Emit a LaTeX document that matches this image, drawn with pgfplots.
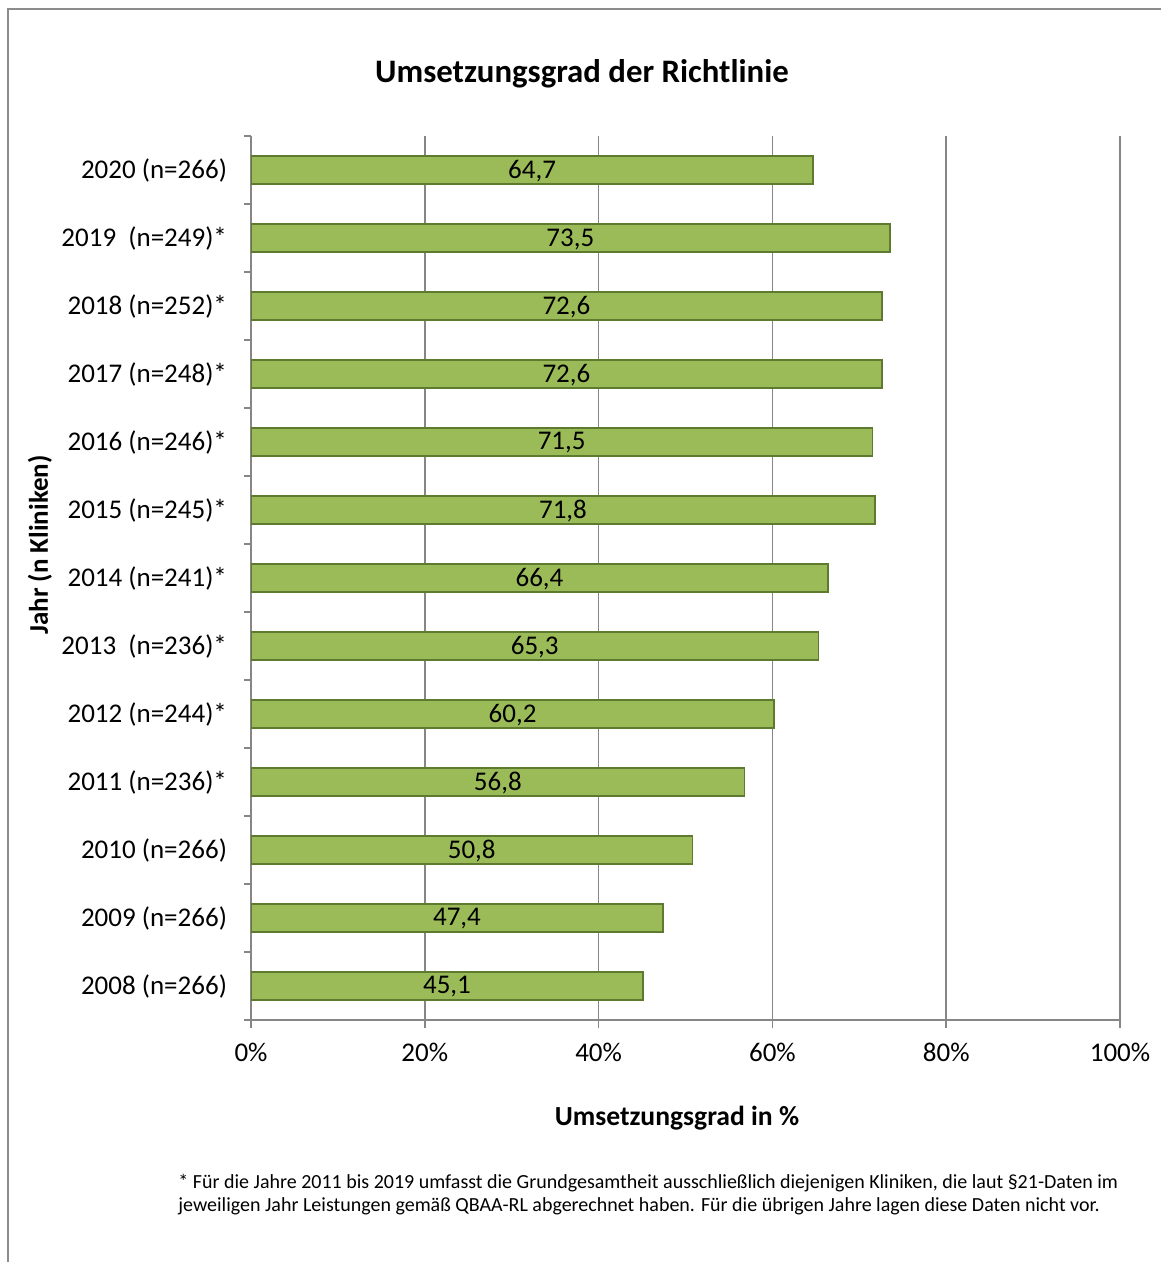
\documentclass[border=0pt]{standalone}
\usepackage{pgfplots}
\pgfplotsset{compat=1.18}
\usepackage{pgfplotstable}
\usepackage{fontspec}
\setmainfont{Carlito}

\definecolor{barfill}{HTML}{9BBB59}
\definecolor{baredge}{HTML}{5E7A2E}
\definecolor{axisgray}{HTML}{868686}
\definecolor{framegray}{HTML}{8C8C8C}

% Umsetzungsgrad je Jahr (idx 0 = 2008 ... idx 12 = 2020)
\pgfplotstableread{
idx value
0 45.1
1 47.4
2 50.8
3 56.8
4 60.2
5 65.3
6 66.4
7 71.8
8 71.5
9 72.6
10 72.6
11 73.5
12 64.7
}\umsetzung

\begin{document}
\begin{tikzpicture}
\useasboundingbox (0,0) rectangle (580.5pt,-631pt);
\begin{axis}[
  at={(125.5pt,-510pt)}, anchor=south west,
  scale only axis, width=434.5pt, height=442pt,
  xmin=0, xmax=100, ymin=-0.5, ymax=12.5,
  axis x line*=bottom, axis y line*=left,
  axis line style={draw=axisgray, line width=0.8pt, -},
  xtick={0,20,...,100},
  xticklabels={0\%,20\%,40\%,60\%,80\%,100\%},
  ytick={0,...,12},
  yticklabels={{2008 (n=266)},{2009 (n=266)},{2010 (n=266)},{2011 (n=236)*},{2012 (n=244)*},{2013\ \ (n=236)*},{2014 (n=241)*},{2015 (n=245)*},{2016 (n=246)*},{2017 (n=248)*},{2018 (n=252)*},{2019\ \ (n=249)*},{2020 (n=266)}},
  minor ytick={-0.5,0.5,...,12.5},
  major y tick style={draw=none},
  tick align=outside, major tick length=4pt, minor tick length=3.5pt,
  tick style={draw=axisgray, line width=0.8pt},
  xmajorgrids, grid style={draw=axisgray, line width=0.8pt},
  ticklabel style={font=\fontsize{13.5}{16}\selectfont},
  yticklabel style={xshift=-4.5pt},
  xticklabel style={yshift=-4pt},
  /pgf/number format/assume math mode=true,
  /pgf/number format/.cd, use comma, fixed, fixed zerofill, precision=1,
]
\addplot[xbar, bar width=14pt, bar shift=0pt, fill=barfill, draw=baredge, line width=0.8pt]
  table[x=value, y=idx]{\umsetzung};
% Wertebeschriftung mittig im Balken
\addplot[draw=none, mark=none, nodes near coords, point meta=explicit,
  every node near coord/.append style={anchor=center, font=\fontsize{13.5}{16}\selectfont, yshift=-0.5pt}]
  table[x expr=\thisrow{value}/2, y=idx, meta=value]{\umsetzung};
\end{axis}

\begin{scope}[x=0.5pt, y=-0.5pt]
\draw[framegray, line width=1pt] (8,1262) -- (8,9) -- (1161,9);
\node[anchor=base, font=\fontsize{16.4}{19}\selectfont\bfseries] at (582,83) {Umsetzungsgrad der Richtlinie};
\node[anchor=base, font=\fontsize{13.8}{16}\selectfont\bfseries] at (677,1125) {Umsetzungsgrad in \%};
\node[rotate=90, anchor=center, font=\fontsize{13.5}{16}\selectfont\bfseries] at (40,545) {Jahr (n Kliniken)};
\node[anchor=base west, inner sep=0pt, font=\fontsize{10}{12}\selectfont] at (178,1188) {* Für die Jahre 2011 bis 2019 umfasst die Grundgesamtheit ausschließlich diejenigen Kliniken, die laut §21-Daten im};
\node[anchor=base west, inner sep=0pt, font=\fontsize{10}{12}\selectfont] at (178,1211) {jeweiligen Jahr Leistungen gemäß QBAA-RL abgerechnet haben. Für die übrigen Jahre lagen diese Daten nicht vor.};
\end{scope}
\end{tikzpicture}
\end{document}
